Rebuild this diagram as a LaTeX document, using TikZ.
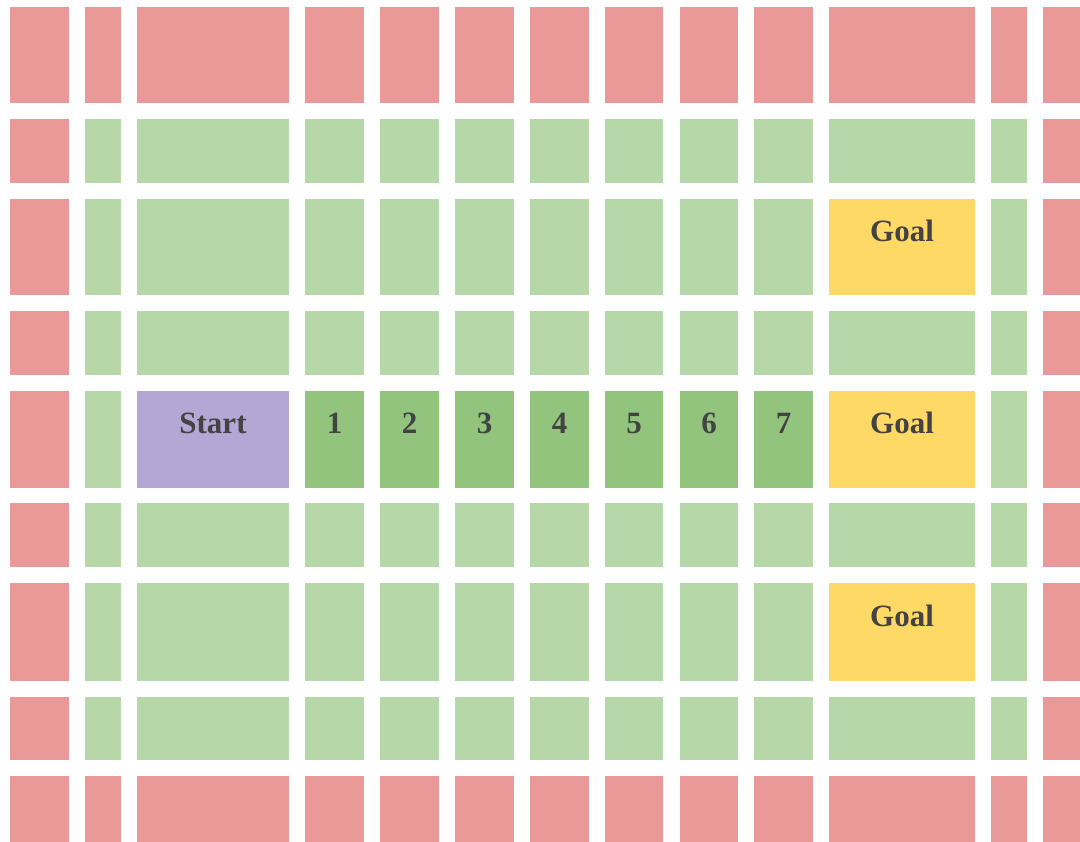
\documentclass[tikz,border=0pt]{standalone}
\usepackage{fontspec}
\setmainfont{Liberation Serif}
\definecolor{wallc}{HTML}{EA9999}
\definecolor{freec}{HTML}{B6D7A8}
\definecolor{pathc}{HTML}{93C47D}
\definecolor{startc}{HTML}{B4A7D6}
\definecolor{goalc}{HTML}{FFD966}
\definecolor{txtc}{HTML}{434343}
\begin{document}
\begin{tikzpicture}[x=1pt,y=-1pt,
  lbl/.style={anchor=base,font=\bfseries\fontsize{31}{31}\selectfont,text=txtc,inner sep=0pt}]
\useasboundingbox (0,0) rectangle (1080,842);
\fill[white] (0,0) rectangle (1080,842);
% columns: x0/x1 ; rows: y0/y1
\def\cols{10/69,85/121,137/289,305/364,380/439,455/514,530/589,605/663,680/738,754/813,829/975,991/1027,1043/1080}
\def\rows{7/103,119/183,199/295,311/375,391/488,503/567,583/681,697/760,776/842}
\foreach \ya/\yb [count=\r from 0] in \rows {
  \foreach \xa/\xb [count=\c from 0] in \cols {
    \def\cc{freec}
    \ifnum\r=0 \def\cc{wallc}\fi
    \ifnum\r=8 \def\cc{wallc}\fi
    \ifnum\c=0 \def\cc{wallc}\fi
    \ifnum\c=12 \def\cc{wallc}\fi
    \ifnum\c=10 \ifodd\r\else\ifnum\r>0 \ifnum\r<8 \def\cc{goalc}\fi\fi\fi\fi
    \ifnum\r=4
      \ifnum\c=2 \def\cc{startc}\fi
      \ifnum\c>2 \ifnum\c<10 \def\cc{pathc}\fi\fi
    \fi
    \fill[\cc] (\xa,\ya) rectangle (\xb,\yb);
  }
}
\node[lbl] (start) at (213,434) {Start};
\node[lbl] (p1) at (334.5,434) {1};
\node[lbl] (p2) at (409.5,434) {2};
\node[lbl] (p3) at (484.5,434) {3};
\node[lbl] (p4) at (559.5,434) {4};
\node[lbl] (p5) at (634,434) {5};
\node[lbl] (p6) at (709,434) {6};
\node[lbl] (p7) at (783.5,434) {7};
\node[lbl] (g1) at (902,242) {Goal};
\node[lbl] (g2) at (902,434) {Goal};
\node[lbl] (g3) at (902,626) {Goal};
\end{tikzpicture}
\end{document}
